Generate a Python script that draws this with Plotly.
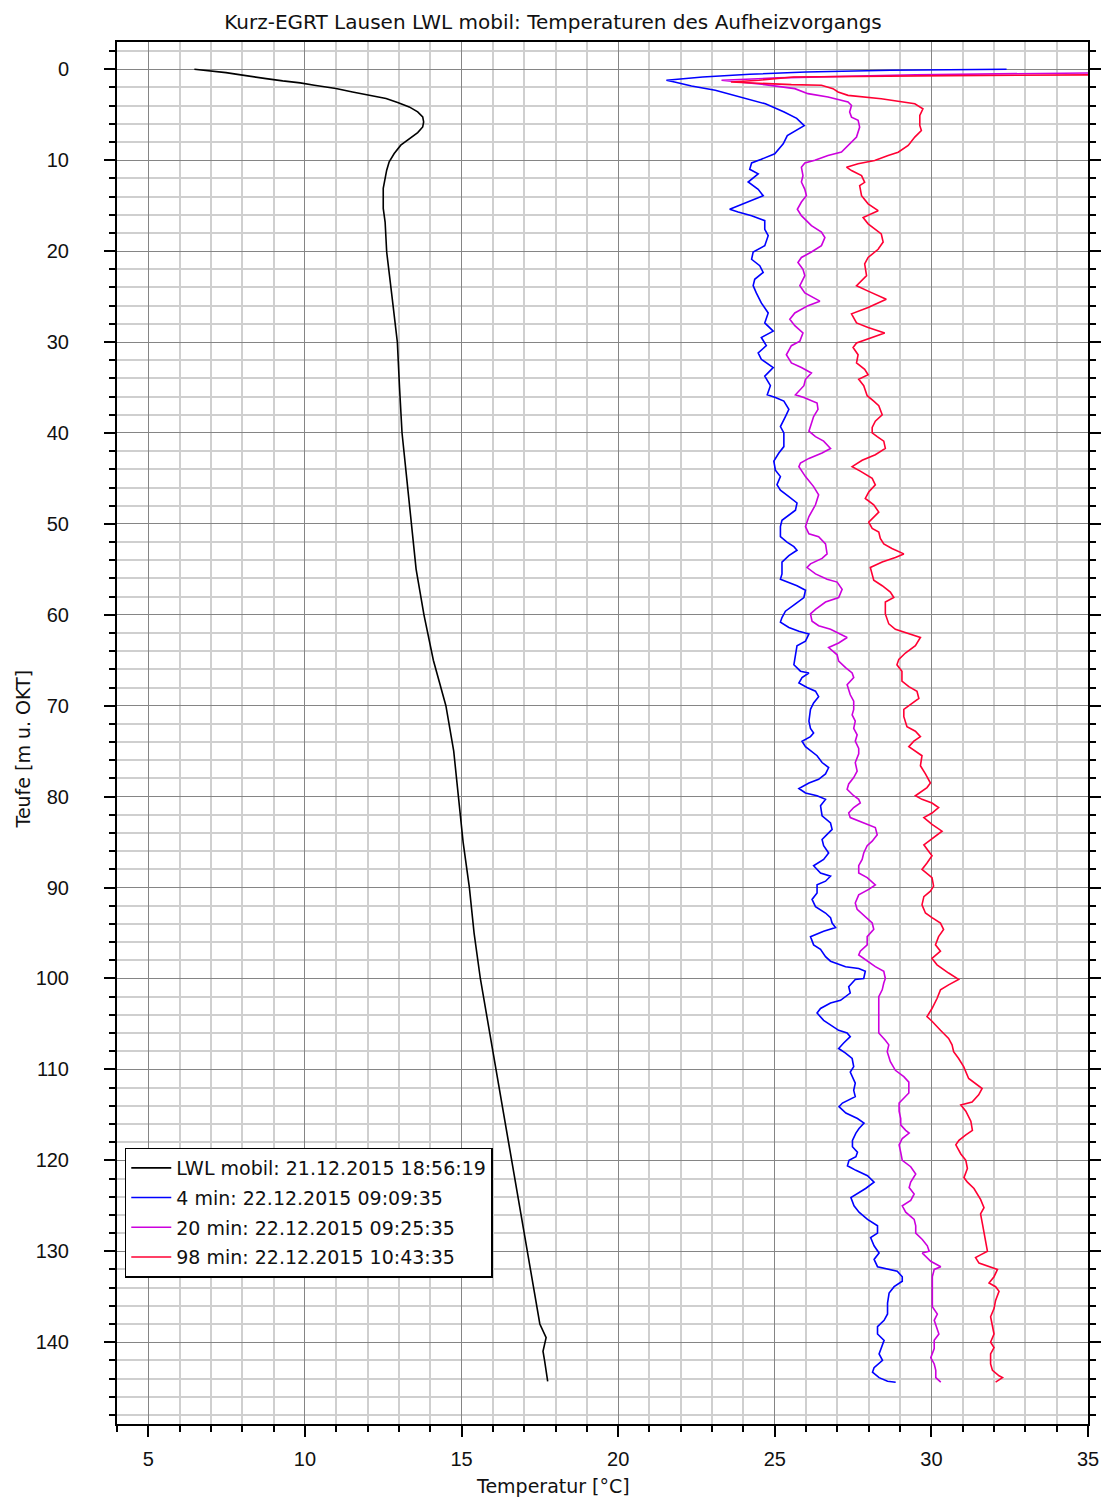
import plotly.graph_objects as go

# ---------------- data ----------------
depth_lwl = [0, 0.11, 0.37, 0.59, 0.84, 1.03, 1.28, 1.5, 1.76, 2.12, 2.49, 2.93, 3.22, 3.66, 4.14,
             4.69, 5.24, 5.79, 6.34, 6.96, 7.62, 8.35, 9.27, 10.18, 11.1, 12.0, 13.1, 14.2, 15.3,
             16.8, 18.2, 20.1, 25, 30, 35, 40, 45, 50, 55, 60, 65, 70, 75, 80, 85, 90, 95, 100,
             105, 110, 115, 120, 125, 130, 135, 138, 139.5, 141, 142, 144.3]
temp_lwl = [6.47, 6.84, 7.48, 7.90, 8.33, 8.76, 9.29, 9.85, 10.3, 10.99, 11.52, 12.16, 12.59, 12.96,
            13.33, 13.60, 13.76, 13.79, 13.76, 13.60, 13.33, 13.06, 12.85, 12.69, 12.61, 12.56, 12.5,
            12.5, 12.5, 12.56, 12.59, 12.61, 12.78, 12.95, 13.02, 13.1, 13.25, 13.4, 13.55, 13.8,
            14.1, 14.5, 14.75, 14.9, 15.05, 15.25, 15.4, 15.6, 15.85, 16.1, 16.35, 16.6, 16.85,
            17.1, 17.35, 17.5, 17.7, 17.6, 17.65, 17.75]

depth_4min = [0.0, 0.1, 0.3, 0.55, 0.85, 1.03, 1.2, 1.4, 1.84, 2.3, 3.05, 3.8, 4.7, 5.4, 6.2, 7.3,
              8.2, 9.3, 9.9, 10.3, 11.0, 11.5, 12.4, 13.2, 13.9, 14.6, 15.0, 15.4, 15.7, 16.1, 16.65,
              17.6, 18.3, 19.4, 20.1, 20.9, 21.6, 22.35, 23.1, 23.8, 24.6, 25.7, 26.8, 27.9, 28.8,
              29.5, 30.4, 31.2, 31.9, 32.8, 33.75, 34.8, 35.8, 36.1, 36.5, 37.4, 38.2, 39.3, 40.0,
              41.5, 42.2, 43.1, 44.1, 44.8, 45.7, 46.3, 47.0, 47.7, 48.5, 49.0, 49.6, 50.3, 51.4,
              52.0, 52.5, 52.9, 53.5, 54.2, 55.5, 56.1, 56.4, 56.8, 57.3, 58.1, 58.8, 59.6, 60.3,
              60.8, 61.4, 61.8, 62.1, 62.9, 63.4, 64.4, 65.5, 66.2, 66.4, 66.9, 67.5, 68.0, 68.4,
              69.0, 69.7, 70.4, 71.7, 72.5, 73.0, 73.4, 73.9, 74.5, 75.1, 75.5, 76.25, 76.8, 77.5,
              78.1, 78.5, 79.1, 79.6, 79.9, 80.3, 81.0, 82.1, 82.9, 83.6, 84.2, 84.7, 85.4, 86.2,
              86.9, 87.6, 88.4, 88.75, 89.3, 89.7, 90.6, 91.3, 92.1, 92.8, 93.3, 93.9, 94.4, 94.8,
              95.4, 96.3, 96.8, 97.6, 98.1, 98.7, 98.9, 99.2, 100.0, 100.1, 100.9, 101.6, 102.4,
              102.7, 103.3, 103.8, 104.6, 105.1, 105.7, 106.0, 106.4, 107.1, 107.7, 108.2, 108.8,
              109.7, 110.3, 111.5, 112.3, 113.0, 113.7, 114.1, 114.8, 115.4, 115.9, 116.5, 117.0,
              117.8, 118.5, 119.1, 119.6, 120.0, 120.6, 121.1, 121.7, 122.4, 123.1, 124.1, 125.0,
              125.7, 126.5, 127.2, 128.0, 128.5, 129.4, 130.2, 130.9, 131.7, 132.0, 132.2, 132.8,
              133.3, 133.9, 134.6, 135.7, 136.9, 137.6, 138.3, 139.1, 139.8, 141.3, 142.0, 142.8,
              143.3, 143.9, 144.3, 144.4]
temp_4min = [32.4, 28.7, 26.0, 24.2, 22.7, 22.0, 21.54, 21.8, 22.34, 23.1, 23.94, 24.7, 25.3, 25.7,
             25.94, 25.4, 25.27, 25.0, 24.57, 24.26, 24.2, 24.47, 24.15, 24.47, 24.63, 24.15, 23.83,
             23.56, 23.83, 24.26, 24.68, 24.68, 24.79, 24.68, 24.31, 24.26, 24.52, 24.63, 24.36,
             24.31, 24.41, 24.57, 24.79, 24.68, 24.95, 24.57, 24.73, 24.47, 24.57, 24.95, 24.68,
             24.86, 24.76, 25.02, 25.29, 25.45, 25.34, 25.18, 25.29, 25.29, 25.13, 24.97, 25.02,
             25.18, 25.07, 25.18, 25.45, 25.71, 25.66, 25.45, 25.23, 25.18, 25.18, 25.39, 25.61,
             25.71, 25.45, 25.23, 25.23, 25.18, 25.39, 25.71, 25.98, 25.93, 25.66, 25.34, 25.23,
             25.18, 25.45, 25.77, 26.09, 25.98, 25.71, 25.66, 25.61, 25.82, 26.09, 25.87, 25.77,
             26.03, 26.30, 26.40, 26.24, 26.14, 26.09, 26.14, 26.24, 26.14, 25.87, 25.98, 26.19,
             26.35, 26.51, 26.72, 26.62, 26.40, 26.09, 25.77, 25.98, 26.35, 26.62, 26.46, 26.51,
             26.78, 26.83, 26.67, 26.51, 26.56, 26.72, 26.56, 26.24, 26.46, 26.78, 26.62, 26.35,
             26.35, 26.19, 26.30, 26.62, 26.78, 26.83, 26.94, 26.56, 26.14, 26.24, 26.46, 26.62,
             26.78, 27.26, 27.68, 27.89, 27.84, 27.57, 27.36, 27.41, 27.10, 26.78, 26.46, 26.35,
             26.56, 26.78, 27.04, 27.31, 27.41, 27.20, 27.04, 27.26, 27.47, 27.52, 27.41, 27.57,
             27.52, 27.57, 27.16, 27.05, 27.27, 27.64, 27.85, 27.69, 27.59, 27.48, 27.48, 27.64,
             27.59, 27.37, 27.32, 27.59, 27.96, 28.17, 27.90, 27.43, 27.53, 27.69, 27.96, 28.28,
             28.28, 28.06, 28.17, 28.33, 28.17, 28.28, 28.65, 28.91, 29.07, 29.07, 28.81, 28.65,
             28.60, 28.60, 28.49, 28.28, 28.28, 28.49, 28.33, 28.44, 28.17, 28.12, 28.33, 28.60,
             28.86]

depth_20min = [0.35, 0.47, 0.6, 0.95, 1.2, 1.69, 2.13, 2.68, 3.05, 3.6, 3.97, 4.7, 5.26, 5.6, 6.36,
               7.46, 8.38, 9.1, 9.49, 10.0, 10.3, 10.77, 11.7, 12.4, 13.2, 13.9, 14.6, 15.4, 16.1,
               17.2, 17.9, 18.5, 19.4, 20.1, 20.7, 21.25, 22.0, 22.7, 23.8, 24.6, 25.5, 26.0, 26.8,
               27.5, 28.2, 29.0, 29.9, 30.4, 31.4, 32.3, 32.8, 33.4, 34.1, 34.8, 35.8, 36.1, 36.7,
               37.4, 38.2, 39.3, 39.8, 40.4, 40.9, 41.7, 42.2, 42.8, 43.3, 43.7, 44.8, 45.9, 46.8,
               47.9, 49.2, 50.3, 51.1, 51.4, 52.2, 53.3, 53.8, 54.4, 54.8, 55.5, 56.1, 56.4, 57.2,
               58.1, 58.6, 59.4, 59.9, 60.7, 61.2, 61.6, 62.5, 63.1, 63.6, 64.4, 65.1, 65.8, 66.4,
               66.9, 67.7, 68.8, 69.5, 70.4, 71.0, 71.7, 72.5, 73.2, 73.9, 74.7, 75.3, 76.25, 77.2,
               77.9, 78.6, 79.2, 79.9, 80.3, 80.7, 81.2, 81.8, 82.3, 82.7, 83.05, 83.4, 84.2, 84.9,
               85.4, 86.2, 86.9, 87.6, 88.4, 88.9, 89.7, 90.2, 90.8, 91.7, 92.4, 93.2, 93.9, 94.6,
               95.4, 96.3, 97.0, 97.4, 97.9, 98.7, 99.2, 100.0, 100.5, 101.25, 102.0, 103.5, 104.9,
               106.0, 106.8, 107.3, 108.05, 109.15, 110.1, 110.8, 111.4, 112.6, 113.7, 114.6, 115.4,
               116.1, 116.7, 117.0, 117.6, 118.3, 119.1, 120.0, 120.7, 121.5, 122.4, 123.0, 123.7,
               124.4, 125.0, 125.7, 126.5, 127.2, 128.0, 128.7, 129.4, 130.0, 130.2, 131.1, 131.7,
               132.0, 132.8, 134.3, 136.1, 136.9, 137.6, 139.1, 139.8, 140.7, 141.7, 142.4, 143.1,
               143.9, 144.4]
temp_20min = [36.5, 32.8, 29.5, 25.1, 23.3, 24.68, 25.64, 26.06, 26.70, 27.34, 27.45, 27.39, 27.45,
              27.66, 27.71, 27.61, 27.34, 27.13, 26.70, 26.28, 25.96, 25.85, 25.9, 25.85, 25.96,
              26.01, 25.85, 25.72, 25.85, 26.17, 26.49, 26.6, 26.49, 26.17, 25.85, 25.74, 25.9,
              25.96, 25.8, 25.96, 26.44, 26.06, 25.64, 25.48, 25.64, 25.9, 25.8, 25.53, 25.37,
              25.53, 25.85, 26.17, 25.98, 25.93, 25.66, 25.93, 26.35, 26.38, 26.24, 26.14, 26.09,
              26.30, 26.56, 26.78, 26.51, 26.09, 25.82, 25.77, 25.98, 26.24, 26.40, 26.30, 26.09,
              25.98, 26.09, 26.40, 26.62, 26.67, 26.51, 26.14, 26.03, 26.30, 26.67, 26.99, 27.15,
              27.04, 26.62, 26.30, 26.14, 26.19, 26.40, 26.78, 27.31, 27.04, 26.72, 26.99, 27.04,
              27.26, 27.47, 27.52, 27.31, 27.41, 27.52, 27.52, 27.47, 27.57, 27.52, 27.63, 27.57,
              27.68, 27.68, 27.57, 27.63, 27.52, 27.36, 27.31, 27.52, 27.68, 27.73, 27.52, 27.36,
              27.41, 27.68, 27.95, 28.21, 28.27, 28.11, 27.95, 27.84, 27.79, 27.68, 27.68, 27.95,
              28.21, 28.00, 27.68, 27.57, 27.63, 27.89, 28.11, 28.16, 27.95, 27.95, 27.73, 27.68,
              27.89, 28.21, 28.48, 28.53, 28.48, 28.43, 28.32, 28.32, 28.32, 28.32, 28.53, 28.64,
              28.59, 28.69, 28.85, 29.12, 29.28, 29.28, 28.97, 28.97, 29.02, 29.02, 29.18, 29.29,
              29.07, 28.97, 29.02, 29.07, 29.34, 29.50, 29.34, 29.29, 29.45, 29.34, 29.07, 29.18,
              29.45, 29.50, 29.50, 29.71, 29.87, 29.93, 29.71, 29.98, 30.30, 30.09, 30.03, 30.03,
              30.03, 30.19, 30.09, 30.24, 30.09, 30.09, 29.98, 30.09, 30.14, 30.14, 30.30]

depth_98min = [0.5, 0.62, 0.7, 0.85, 1.2, 1.4, 1.69, 1.76, 2.13, 2.5, 2.87, 3.24, 3.79, 4.34, 5.07,
               6.18, 6.73, 7.46, 8.38, 9.12, 9.49, 10.04, 10.4, 10.77, 11.14, 11.7, 12.43, 12.8,
               13.9, 14.8, 15.55, 16.3, 17.0, 18.1, 19.0, 19.8, 20.7, 21.4, 22.7, 23.8, 24.4, 25.3,
               26.2, 26.9, 27.9, 28.4, 29.0, 29.5, 30.1, 30.6, 31.4, 32.3, 33.0, 33.6, 34.1, 34.8,
               35.9, 36.5, 37.0, 38.0, 38.7, 39.4, 40.0, 40.4, 40.9, 41.7, 42.4, 43.0, 43.7, 44.2,
               45.0, 45.7, 46.5, 47.2, 47.9, 48.7, 49.2, 49.8, 50.5, 50.9, 51.6, 52.2, 52.7, 53.3,
               53.7, 54.2, 54.8, 55.5, 56.2, 56.8, 57.5, 58.1, 58.6, 59.9, 61.0, 61.6, 62.0, 62.5,
               63.4, 64.2, 64.9, 65.5, 66.2, 67.3, 67.9, 68.4, 69.2, 69.9, 70.4, 71.2, 71.7, 72.3,
               72.8, 73.4, 73.9, 74.5, 75.5, 76.6, 77.5, 78.5, 79.0, 79.9, 80.3, 80.7, 81.2, 81.8,
               82.3, 83.05, 83.8, 84.5, 85.3, 86.0, 86.5, 87.3, 88.0, 88.9, 89.85, 90.4, 91.0, 91.9,
               92.8, 93.3, 93.9, 94.6, 95.4, 96.3, 97.0, 97.8, 98.5, 99.4, 100.1, 100.7, 101.25,
               102.2, 103.3, 104.2, 104.7, 105.7, 106.6, 107.3, 108.05, 108.8, 109.7, 111.0, 111.5,
               112.1, 112.8, 113.6, 113.9, 114.6, 115.7, 116.7, 117.2, 117.8, 118.3, 119.3, 120.0,
               120.9, 121.9, 122.4, 123.1, 124.3, 125.2, 125.9, 127.0, 128.0, 129.1, 130.0, 130.4,
               130.7, 131.3, 131.7, 132.0, 132.8, 133.5, 133.9, 134.4, 135.4, 136.3, 137.2, 138.1,
               139.1, 140.0, 140.6, 141.3, 142.4, 143.1, 143.7, 143.9, 144.4]
temp_98min = [36.5, 35.0, 30.6, 25.6, 24.5, 23.6, 25.53, 26.49, 26.86, 27.02, 27.34, 28.4, 29.47,
              29.73, 29.63, 29.63, 29.68, 29.47, 29.26, 28.94, 28.62, 28.19, 27.66, 27.29, 27.45,
              27.77, 27.87, 27.71, 27.77, 27.98, 28.3, 27.82, 27.98, 28.4, 28.46, 28.3, 27.98,
              27.87, 27.93, 27.61, 27.98, 28.56, 27.98, 27.45, 27.61, 27.98, 28.51, 28.09, 27.61,
              27.5, 27.66, 27.61, 27.87, 27.98, 27.68, 27.84, 27.95, 28.16, 28.32, 28.43, 28.21,
              28.11, 28.11, 28.27, 28.48, 28.53, 28.21, 27.79, 27.47, 27.73, 28.11, 28.21, 28.00,
              27.89, 28.16, 28.32, 28.16, 28.00, 28.11, 28.32, 28.37, 28.48, 28.74, 29.12, 28.85,
              28.43, 28.05, 28.11, 28.16, 28.43, 28.69, 28.80, 28.53, 28.53, 28.64, 28.85, 29.22,
              29.65, 29.49, 29.17, 28.96, 28.90, 29.06, 29.06, 29.28, 29.54, 29.60, 29.33, 29.12,
              29.12, 29.17, 29.22, 29.49, 29.65, 29.44, 29.28, 29.70, 29.65, 29.81, 29.97, 29.86,
              29.49, 29.70, 30.02, 30.23, 30.02, 29.76, 30.02, 30.34, 30.07, 29.76, 29.91, 30.02,
              29.86, 29.70, 30.02, 30.07, 29.97, 29.76, 29.70, 29.81, 30.02, 30.29, 30.39, 30.23,
              30.13, 30.29, 30.02, 30.18, 30.55, 30.87, 30.55, 30.29, 30.18, 30.02, 29.86, 30.02,
              30.29, 30.55, 30.66, 30.71, 30.87, 31.03, 31.19, 31.40, 31.62, 31.51, 31.30, 30.94,
              31.10, 31.26, 31.31, 31.10, 30.88, 30.78, 30.94, 31.10, 31.15, 31.04, 31.15, 31.36,
              31.57, 31.68, 31.57, 31.63, 31.68, 31.73, 31.79, 31.57, 31.41, 31.52, 31.89, 32.11,
              32.00, 31.84, 32.05, 32.16, 32.05, 32.00, 31.89, 31.95, 32.00, 31.89, 32.00, 31.89,
              31.89, 31.95, 32.16, 32.27, 32.05]

series_names = ["LWL mobil: 21.12.2015 18:56:19",
                "4 min: 22.12.2015 09:09:35",
                "20 min: 22.12.2015 09:25:35",
                "98 min: 22.12.2015 10:43:35"]
series_colors = ["#000000", "#0000FF", "#CC00DD", "#FF0033"]

title_text = "Kurz-EGRT Lausen LWL mobil: Temperaturen des Aufheizvorgangs"
x_title = "Temperatur [°C]"
y_title = "Teufe [m u. OKT]"

# ---------------- figure ----------------
TEXT_FONT = "DejaVu Sans, Verdana, sans-serif"
NUM_FONT = "Liberation Sans, Arial, sans-serif"
W, H = 1106, 1499
ML, MR, MT, MB = 117, 18, 42, 75
PW, PH = W - ML - MR, H - MT - MB

fig = go.Figure()
all_series = [(temp_lwl, depth_lwl), (temp_4min, depth_4min),
              (temp_20min, depth_20min), (temp_98min, depth_98min)]
for i, (t, d) in enumerate(all_series):
    fig.add_trace(go.Scatter(x=t, y=d, mode="lines", name=series_names[i],
                             legendgroup=f"g{i}",
                             line=dict(color=series_colors[i], width=1.6)))

axis_common = dict(
    ticks="outside", tickwidth=2, tickcolor="black",
    showline=True, linecolor="black", linewidth=2,
    showgrid=True, gridcolor="#858585", gridwidth=1.3,
    zeroline=False, automargin=False,
    tickfont=dict(family=NUM_FONT, size=20, color="#111"),
)

fig.update_layout(
    width=W, height=H,
    margin=dict(l=ML, r=MR, t=MT, b=MB),
    paper_bgcolor="white", plot_bgcolor="white",
    font=dict(family=TEXT_FONT, size=18, color="#111"),
    title=dict(text=title_text, x=0.5, xref="container", xanchor="center",
               y=1 - 22 / H, yref="container", yanchor="middle",
               font=dict(family=TEXT_FONT, size=20, color="#111")),
    showlegend=True,
    legend=dict(x=0.008, y=0.106, xanchor="left", yanchor="bottom",
                bgcolor="white", bordercolor="black", borderwidth=1.5,
                font=dict(family=TEXT_FONT, size=19, color="#111"),
                itemwidth=40,
                tracegroupgap=2, traceorder="grouped"),
)

# axis titles, centred on the figure like in the reference
fig.add_annotation(text=x_title, xref="paper", yref="paper",
                   x=(W / 2 - ML) / PW, y=-(1486 - (MT + PH)) / PH,
                   xanchor="center", yanchor="middle", showarrow=False,
                   font=dict(family=TEXT_FONT, size=19, color="#111"))
fig.add_annotation(text=y_title, xref="paper", yref="paper",
                   x=(22 - ML) / PW, y=((MT + PH) - H / 2) / PH,
                   xanchor="center", yanchor="middle", showarrow=False, textangle=-90,
                   font=dict(family=TEXT_FONT, size=19, color="#111"))

fig.update_xaxes(
    range=[4, 35], tick0=0, dtick=5, ticklen=11, mirror=True,
    ticklabelstandoff=5,
    minor=dict(dtick=1, ticks="outside", ticklen=6, tickwidth=2, tickcolor="black",
               showgrid=True, gridcolor="#cfcfcf", gridwidth=2),
    **axis_common,
)
fig.update_yaxes(
    range=[149, -3], tick0=0, dtick=10, ticklen=11, mirror="ticks",
    ticklabelstandoff=31,
    minor=dict(dtick=2, ticks="outside", ticklen=6, tickwidth=2, tickcolor="black",
               showgrid=True, gridcolor="#cfcfcf", gridwidth=2),
    **axis_common,
)

fig.write_html("out.html")
